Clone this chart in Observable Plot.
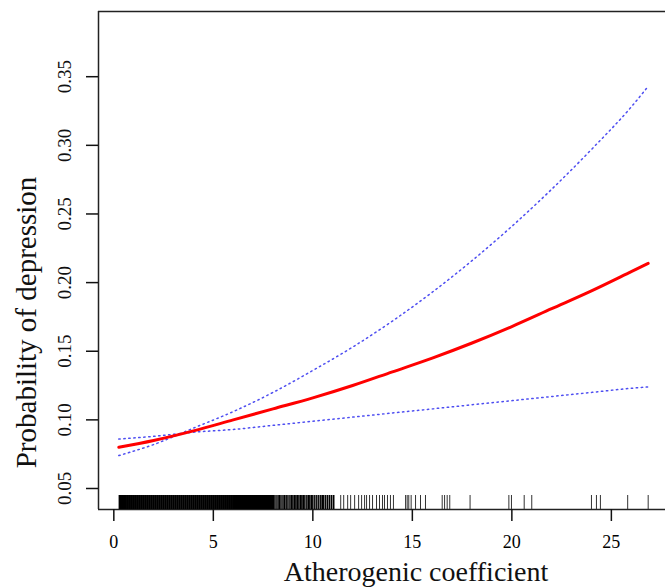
<!DOCTYPE html>
<html>
<head>
<meta charset="utf-8">
<script src="https://cdn.jsdelivr.net/npm/d3@7"></script>
<script src="https://cdn.jsdelivr.net/npm/@observablehq/plot@0.6"></script>
<style>
  html, body { margin: 0; padding: 0; background: #fff; }
  #chart { width: 665px; height: 587px; overflow: hidden; }
</style>
</head>
<body>
<div id="chart"></div>
<script>
// Atherogenic coefficient (x) vs predicted probability of depression
const xs    = [0.25, 2, 4, 6, 8, 10, 12, 14, 16, 18, 20, 22, 24, 26, 26.85];
const fit   = [0.080, 0.085, 0.092, 0.100, 0.108, 0.116, 0.125, 0.135, 0.145, 0.156, 0.168, 0.181, 0.194, 0.208, 0.214];
const upper = [0.074, 0.082, 0.094, 0.106, 0.120, 0.136, 0.153, 0.172, 0.193, 0.216, 0.241, 0.268, 0.297, 0.328, 0.343];
const lower = [0.086, 0.088, 0.091, 0.093, 0.096, 0.099, 0.102, 0.105, 0.108, 0.111, 0.114, 0.117, 0.120, 0.123, 0.124];

// rug of observations
const rugDense = [0.3,0.4,0.5,0.6,0.7,0.8,0.9,1.0,1.1,1.2,1.3,1.4,1.5,1.6,1.7,1.8,1.9,2.0,
  2.1,2.2,2.3,2.4,2.5,2.6,2.7,2.8,2.9,3.0,3.1,3.2,3.3,3.4,3.5,3.6,3.7,3.8,3.9,4.0,
  4.1,4.2,4.3,4.4,4.5,4.6,4.7,4.8,4.9,5.0,5.1,5.2,5.3,5.4,5.5,5.6,5.7,5.8,5.9,6.0,
  6.1,6.2,6.3,6.4,6.5,6.6,6.7,6.8,6.9,7.0,7.1,7.2,7.3,7.4,7.5,7.6,7.7,7.8,7.9,8.0];
const rugMid = [8.05,8.15,8.25,8.32,8.4,8.5,8.58,8.66,8.75,8.85,8.93,9.0,9.08,9.15,9.22,9.3,
  9.38,9.45,9.52,9.6,9.7,9.78,9.85,9.93,10.0,10.1,10.2,10.3,10.4,10.48,10.55,10.65,10.75,10.85,10.95,11.05];
const rugSparse = [11.4,11.55,11.75,11.9,12.1,12.3,12.45,12.6,12.7,12.85,13.0,13.2,13.35,13.5,13.6,
  13.75,13.9,14.05,14.66,14.74,14.82,14.94,15.16,15.41,15.66,16.5,16.62,16.75,16.88,17.9,
  19.85,19.98,20.62,21.0,24.0,24.25,24.45,25.82,26.85];

const xTicks = [0, 5, 10, 15, 20, 25];
const yTicks = [0.05, 0.10, 0.15, 0.20, 0.25, 0.30, 0.35];
const xDomain = [-0.77, 27.72];
const yDomain = [0.0347, 0.3975];
const xTitle = "Atherogenic coefficient";
const yTitle = "Probability of depression";

const curve = xs.map((x, i) => ({x, fit: fit[i], upper: upper[i], lower: lower[i]}));

const font = "'Liberation Serif', 'Times New Roman', serif";

const plot = Plot.plot({
  width: 665,
  height: 587,
  marginLeft: 98,
  marginRight: 0,
  marginTop: 11,
  marginBottom: 78,
  style: {fontFamily: font, background: "#fff", color: "#000"},
  x: {domain: xDomain},
  y: {domain: yDomain},
  marks: [
    // box (top, left, bottom)
    Plot.ruleY([yDomain[1]], {stroke: "#222", strokeWidth: 1.5}),
    Plot.ruleY([yDomain[0]], {stroke: "#222", strokeWidth: 1.5}),
    Plot.ruleX([xDomain[0]], {stroke: "#222", strokeWidth: 1.5}),
    // axes ticks
    Plot.axisX({ticks: xTicks, tickSize: 12, tickPadding: 14, fontSize: 18, tickFormat: d => String(d), stroke: "#111", strokeWidth: 1.5, label: null, style: {letterSpacing: "1px"}}),
    Plot.axisY({ticks: yTicks, tickSize: 12, tickFormat: () => "", stroke: "#111", strokeWidth: 1.5, label: null}),
    Plot.text(yTicks, {y: d => d, frameAnchor: "left", text: d => d.toFixed(2), rotate: -90,
      textAnchor: "middle", lineAnchor: "middle", dx: -34, fontSize: 19, fill: "#111", style: {letterSpacing: "1.5px"}}),
    // rug
    Plot.tickX(rugDense, {x: d => d, insetTop: 484, stroke: "#000", strokeWidth: 2.4}),
    Plot.tickX(rugMid, {x: d => d, insetTop: 484, stroke: "#000", strokeWidth: 1.5}),
    Plot.tickX(rugSparse, {x: d => d, insetTop: 484, stroke: "#333", strokeWidth: 1}),
    // confidence bounds
    Plot.line(curve, {x: "x", y: "upper", curve: "monotone-x", stroke: "#2222ee", strokeWidth: 1.5, strokeDasharray: "1.4,3.6", strokeOpacity: 0.8}),
    Plot.line(curve, {x: "x", y: "lower", curve: "monotone-x", stroke: "#2222ee", strokeWidth: 1.5, strokeDasharray: "1.4,3.6", strokeOpacity: 0.8}),
    // fitted
    Plot.line(curve, {x: "x", y: "fit", curve: "monotone-x", stroke: "#ff0000", strokeWidth: 3}),
    // axis titles
    Plot.text([xTitle], {frameAnchor: "bottom", text: d => d, textAnchor: "middle", lineAnchor: "bottom", dx: 34, dy: 71, fontSize: 28, fill: "#111"}),
    Plot.text([yTitle], {frameAnchor: "left", text: d => d, rotate: -90, textAnchor: "middle", lineAnchor: "bottom", dx: -63, dy: 62, fontSize: 29, fill: "#111"})
  ]
});
document.getElementById("chart").appendChild(plot);
</script>
</body>
</html>
